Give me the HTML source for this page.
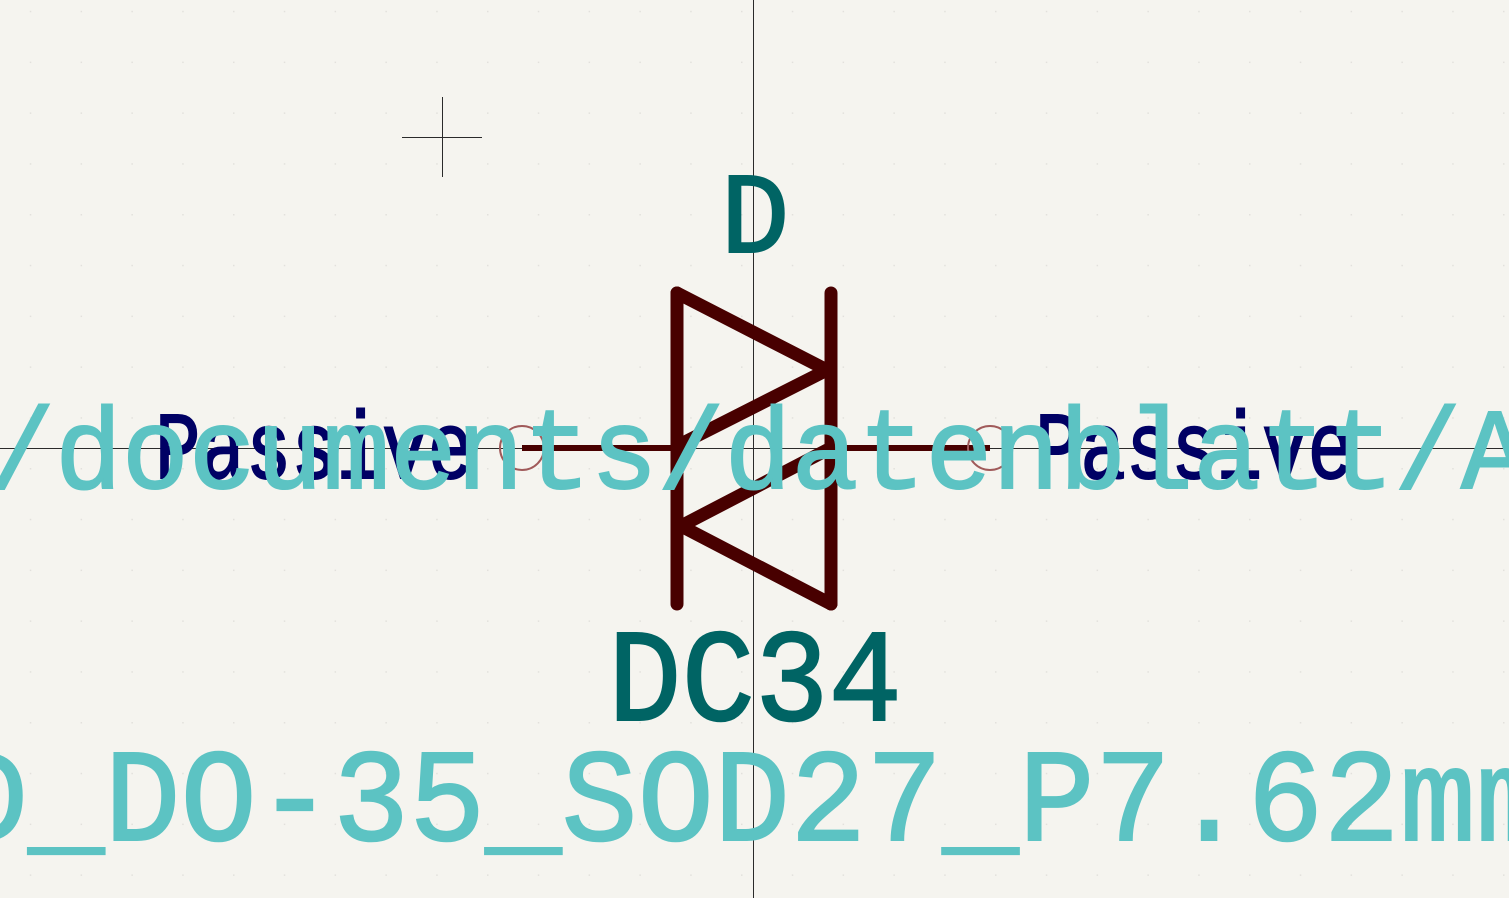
<!DOCTYPE html>
<html>
<head>
<meta charset="utf-8">
<style>
html,body{margin:0;padding:0;background:#f5f4ef;overflow:hidden;}
svg{display:block;}
</style>
</head>
<body>
<svg width="1509" height="898" viewBox="0 0 1509 898" xmlns="http://www.w3.org/2000/svg">
  <defs>
    <pattern id="grid" x="-21" y="-40" width="50.8" height="50.8" patternUnits="userSpaceOnUse">
      <rect x="0" y="0" width="1.5" height="1.5" fill="#e2e1dc"/>
    </pattern>
  </defs>
  <rect width="1509" height="898" fill="#f5f4ef"/>
  <rect width="1509" height="898" fill="url(#grid)"/>

  <line x1="753.5" y1="0" x2="753.5" y2="898" stroke="#2a2a2a" stroke-width="1"/>
  <line x1="0" y1="448.5" x2="1509" y2="448.5" stroke="#2a2a2a" stroke-width="1"/>

  <g stroke="#2a2a2a" stroke-width="1">
    <line x1="442.5" y1="97" x2="442.5" y2="177"/>
    <line x1="402" y1="137.5" x2="482" y2="137.5"/>
  </g>

  <text x="755" y="252" text-anchor="middle" font-family="Liberation Mono, monospace" font-size="115" fill="#006464" stroke="#006464" stroke-width="2">D</text>

  <g>
    <line x1="522" y1="448" x2="677" y2="448" stroke="#480000" stroke-width="6"/>
    <circle cx="522" cy="448" r="22" fill="none" stroke="#a05a5a" stroke-width="2"/>
  </g>
  <g>
    <line x1="831" y1="448" x2="990" y2="448" stroke="#480000" stroke-width="6"/>
    <circle cx="990" cy="448" r="22" fill="none" stroke="#a05a5a" stroke-width="2"/>
  </g>

  <g stroke="#480000" stroke-width="13" stroke-linecap="round" stroke-linejoin="round" fill="none">
    <line x1="677" y1="293" x2="677" y2="604"/>
    <line x1="831" y1="293" x2="831" y2="604"/>
    <polyline points="677,293 827,370 677,446"/>
    <polyline points="827,450 681,526 831,604"/>
  </g>

  <text x="155" y="478" textLength="318" lengthAdjust="spacingAndGlyphs" font-family="Liberation Mono, monospace" font-size="96" fill="#000064" stroke="#000064" stroke-width="2">Passive</text>
  <text x="1035" y="478" textLength="318" lengthAdjust="spacingAndGlyphs" font-family="Liberation Mono, monospace" font-size="96" fill="#000064" stroke="#000064" stroke-width="2">Passive</text>

  <text x="-12" y="488" textLength="1540" lengthAdjust="spacingAndGlyphs" font-family="Liberation Mono, monospace" font-size="115" fill="#5cc3c3" stroke="#5cc3c3" stroke-width="2">/documents/datenblatt/A</text>

  <text x="608" y="720" textLength="294" lengthAdjust="spacingAndGlyphs" font-family="Liberation Mono, monospace" font-size="132" fill="#006464" stroke="#006464" stroke-width="2">DC34</text>

  <text x="-48" y="840" textLength="1600" lengthAdjust="spacingAndGlyphs" font-family="Liberation Mono, monospace" font-size="132" fill="#5cc3c3" stroke="#5cc3c3" stroke-width="2">D_DO-35_SOD27_P7.62mm</text>
</svg>
</body>
</html>
